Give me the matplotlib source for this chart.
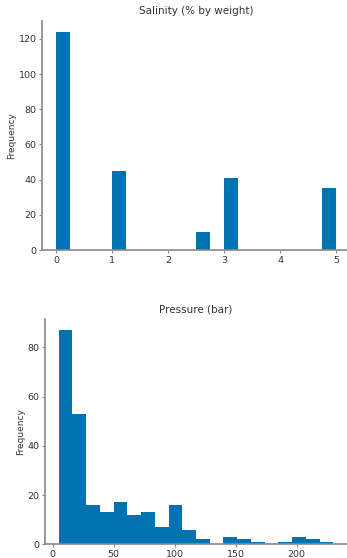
import numpy as np
import matplotlib
matplotlib.use('Agg')
import matplotlib.pyplot as plt

# Salinity histogram: 20 bins over 0..5
sal_edges = np.linspace(0, 5, 21)
sal_counts = [124, 0, 0, 0, 45, 0, 0, 0, 0, 0, 10, 0, 41, 0, 0, 0, 0, 0, 0, 35]

# Pressure histogram: 20 bins over 5..230
pres_edges = np.linspace(5, 230, 21)
pres_counts = [87, 53, 16, 13, 17, 12, 13, 7, 16, 6, 2, 0, 3, 2, 1, 0, 1, 3, 2, 1]

blue = '#0072b2'
txt = '#333333'
spine = '#888888'

plt.rcParams['font.family'] = 'DejaVu Sans'
fig = plt.figure(figsize=(3.47, 5.58), dpi=100)
ax1 = fig.add_axes([42 / 347, 1 - 250 / 558, 308 / 347, 229 / 558])
ax2 = fig.add_axes([45 / 347, 1 - 544.3 / 558, 1 - 45 / 347, 225 / 558])

for ax, edges, counts, title in [
    (ax1, sal_edges, sal_counts, 'Salinity (% by weight)'),
    (ax2, pres_edges, pres_counts, 'Pressure (bar)'),
]:
    ax.hist(edges[:-1], bins=edges, weights=counts, color=blue)
    ax.set_title(title, fontsize=7.5, color=txt, pad=5)
    ax.set_ylabel('Frequency', fontsize=6.5, color=txt, labelpad=2)
    for s in ['top', 'right']:
        ax.spines[s].set_visible(False)
    for s in ['left', 'bottom']:
        ax.spines[s].set_color(spine)
        ax.spines[s].set_linewidth(1.2)
    ax.tick_params(colors=spine, labelcolor=txt, labelsize=6.8, length=2.5, pad=1.5)

ax1.set_xticks([0, 1, 2, 3, 4, 5])
ax1.set_yticks([0, 20, 40, 60, 80, 100, 120])
ax2.set_xticks([0, 50, 100, 150, 200])
ax2.set_yticks([0, 20, 40, 60, 80])

fig.savefig('out.png', dpi=100)
